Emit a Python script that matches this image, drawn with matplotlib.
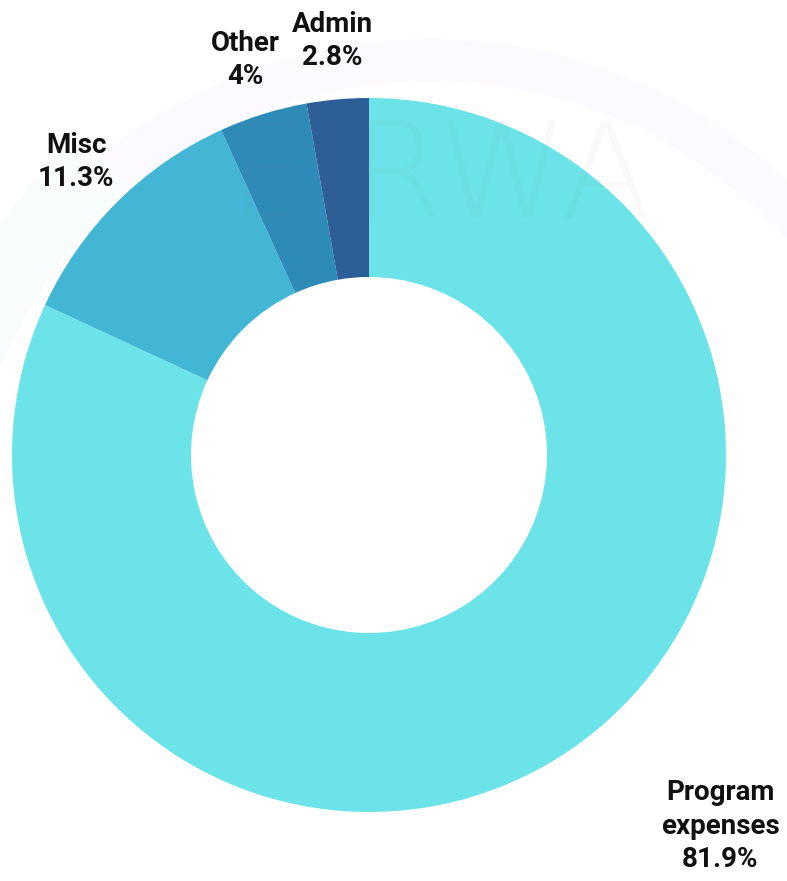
import matplotlib.pyplot as plt
from matplotlib.patches import Arc

categories = ['Program\nexpenses', 'Misc', 'Other', 'Admin']
shares = [81.9, 11.3, 4.0, 2.8]
pct_labels = ['81.9%', '11.3%', '4%', '2.8%']
colors = ['#6BE3E8', '#42B6D4', '#2E8BB8', '#2D5E97']

# label anchors in pixel coords (from top-left)
label_pos = [(720, 826), (76, 162), (245, 60), (332, 41)]

W, H = 787, 881
fig = plt.figure(figsize=(W / 100, H / 100), dpi=100)
ax = fig.add_axes([0, 0, 1, 1])

cx, cy, r_out, r_in = 369, H - 455, 357, 178

# faint background decoration
ax.add_patch(Arc((430, H - 560), 1000, 1000, theta1=38, theta2=142,
                 color='#fcfaff', lw=30, zorder=0))
ax.add_patch(Arc((560, H - 620), 1300, 1300, theta1=135, theta2=175,
                 color='#f8fcfd', lw=50, zorder=0))

ax.pie(shares, colors=colors, startangle=90, counterclock=False,
       center=(cx, cy), radius=r_out,
       wedgeprops=dict(width=r_out - r_in, linewidth=0))

ax.text(440, H - 180, 'EIRWA', ha='center', va='center', fontsize=95,
        family='DejaVu Sans', fontweight='light', color='#888888', alpha=0.045,
        zorder=5)

for cat, pct, (x, y) in zip(categories, pct_labels, label_pos):
    ax.text(x, H - y, cat + '\n' + pct, ha='center', va='center',
            fontsize=20, fontweight='bold', family='Roboto',
            linespacing=1.3, color='#111111')

ax.set_xlim(0, W)
ax.set_ylim(0, H)
ax.set_aspect('equal')
ax.axis('off')

fig.savefig('out.png', dpi=100, facecolor='white')
